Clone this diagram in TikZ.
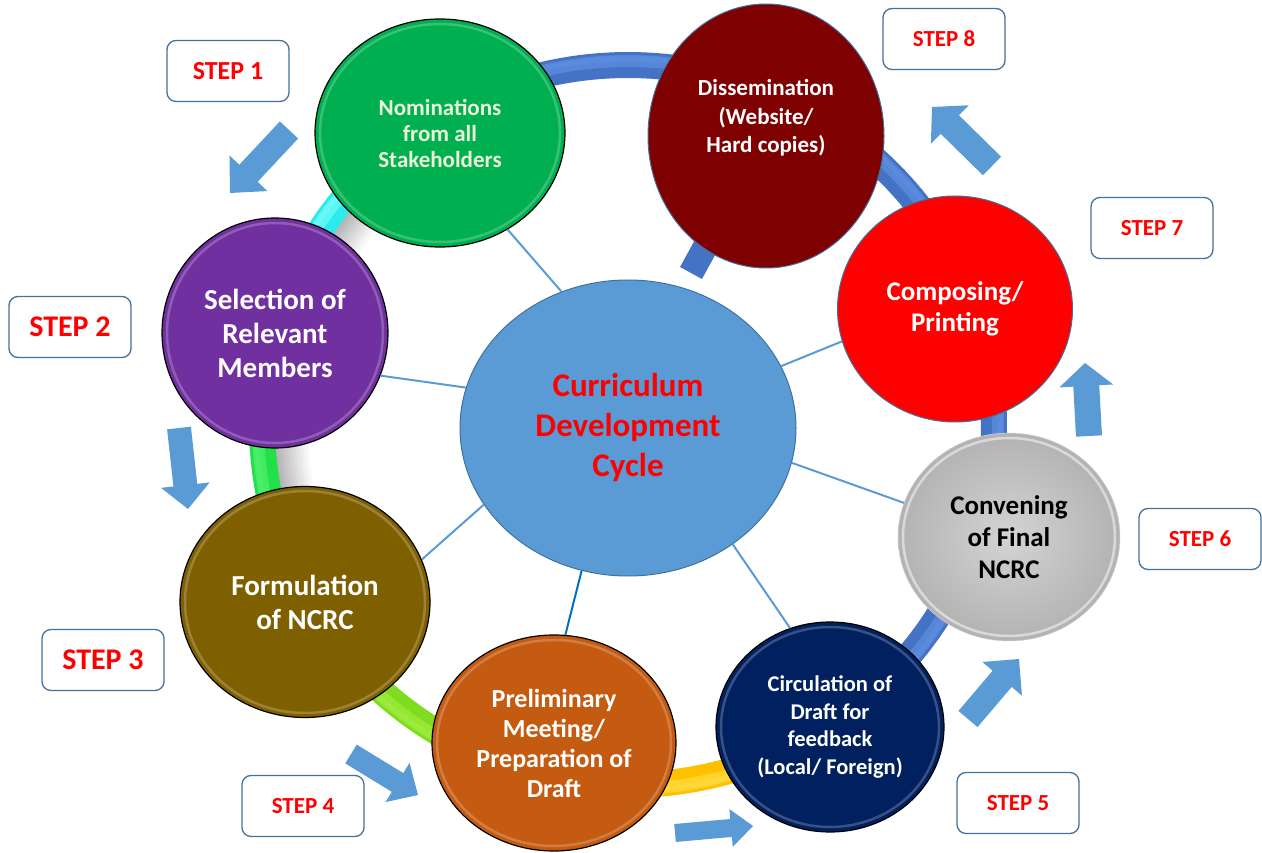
\documentclass[tikz,border=0pt]{standalone}
\usepackage{fontspec}
\setmainfont{Carlito}
\usetikzlibrary{shapes.geometric,calc}
\definecolor{nomgreen}{HTML}{00B050}
\definecolor{dismaroon}{HTML}{7F0000}
\definecolor{selpurple}{HTML}{7030A0}
\definecolor{compred}{HTML}{FF0000}
\definecolor{formbrown}{HTML}{7F6000}
\definecolor{prelorange}{HTML}{C55A11}
\definecolor{circnavy}{HTML}{002060}
\definecolor{ccblue}{HTML}{5B9BD5}
\definecolor{edgeblue}{HTML}{41719C}
\definecolor{ringblue}{HTML}{4472C4}
\definecolor{ringbluehl}{HTML}{5F8FE0}
\definecolor{ringcyan}{HTML}{2BEBEB}
\definecolor{ringcyanhl}{HTML}{70FAFA}
\definecolor{ringgreen}{HTML}{22E04A}
\definecolor{ringgreenhl}{HTML}{50F070}
\definecolor{ringlime}{HTML}{80DC1E}
\definecolor{ringlimehl}{HTML}{A0EC40}
\definecolor{ringyellow}{HTML}{FFC000}
\definecolor{ringyellowhl}{HTML}{FFDC40}
\definecolor{arrowblue}{HTML}{5B9BD5}
\definecolor{nomtext}{HTML}{EBF2D8}
\definecolor{darkspoke}{HTML}{0070C0}
\definecolor{stepred}{HTML}{FF0000}
\definecolor{shadowgray}{HTML}{B0B0B0}
\pgfdeclarelayer{bg}
\pgfsetlayers{bg,main}
\newcommand\blockarr[5]{%
  \coordinate (#1-b) at ($(#2)!#5!(#1)$);
  \fill[barrow] ($(#1)!#3!90:(#2)$) -- ($(#1-b)!#3!-90:(#1)$) -- ($(#1-b)!#4!-90:(#1)$) -- (#2) -- ($(#1-b)!#4!90:(#1)$) -- ($(#1-b)!#3!90:(#1)$) -- ($(#1)!#3!-90:(#2)$) -- cycle;}
\newcommand\ringseg[4]{%
  \draw[line width=26pt, #3] plot[domain=#1:#2, samples=70, smooth] ({628+366*cos(\x)},{425+360*sin(\x)});
  \draw[line width=12pt, #4, opacity=.7] plot[domain=#1:#2, samples=70, smooth] ({628+370*cos(\x)},{425+364*sin(\x)});
  \draw[line width=5pt, #4, opacity=.6] plot[domain=#1:#2, samples=70, smooth] ({628+372*cos(\x)},{425+366*sin(\x)});}
\tikzset{
  bub/.style n args={3}{ellipse, minimum width=#1pt, minimum height=#2pt, fill=#3, draw=black, line width=1.2pt, inner sep=0pt, align=center, text=white},
  stepbox/.style={draw=edgeblue, line width=1.3pt, rounded corners=9pt, fill=white, minimum width=122pt, minimum height=61pt, text=stepred, inner sep=0pt},
  barrow/.style={fill=arrowblue},
  spoke/.style={draw=ccblue, line width=2pt},
  hl/.style={draw=white, opacity=.22, line width=2.5pt},
  txt/.style={align=center, text=white, inner sep=0pt}
}
\begin{document}
\begin{tikzpicture}[x=1pt,y=-1pt]
\useasboundingbox (0,0) rectangle (1262,853);

% ring (background)
\begin{pgfonlayer}{bg}
\foreach \i in {0,...,13}{
  \pgfmathsetmacro{\r}{354-2.5*\i}
  \pgfmathsetmacro{\c}{100*(1-\i/14)}
  \draw[line width=3pt, draw=shadowgray!\c!white] plot[domain=150:245, samples=50, smooth] ({628+\r*cos(\x)},{425+(\r-6)*sin(\x)});
}
\ringseg{237}{416}{ringblue}{ringbluehl}
\ringseg{56}{103}{ringyellow}{ringyellowhl}
\ringseg{103}{151}{ringlime}{ringlimehl}
\ringseg{151}{195}{ringgreen}{ringgreenhl}
\ringseg{195}{237}{ringcyan}{ringcyanhl}
\end{pgfonlayer}

% circles
\node[bub={250}{228}{nomgreen}, text=nomtext, font=\fontsize{23}{26}\selectfont\bfseries] (nom) at (440,133) {Nominations\\from all\\Stakeholders};
\node[bub={236}{264}{dismaroon}, draw=edgeblue, line width=1pt] (dis) at (766,136) {};
\node[txt, font=\fontsize{23}{28.5}\selectfont\bfseries] (dist) at (766,118) {Dissemination\\(Website/\\Hard copies)};
\node[bub={226}{230}{selpurple}, font=\fontsize{29}{34}\selectfont\bfseries] (sel) at (275,333) {Selection of\\Relevant\\Members};
\node[bub={235}{226}{compred}, draw=edgeblue, line width=1pt, font=\fontsize{27}{31}\selectfont\bfseries] (comp) at (955,309) {Composing/\\Printing};
\node[bub={250}{231}{formbrown}, font=\fontsize{29}{34}\selectfont\bfseries] (form) at (305,602) {Formulation\\of NCRC};
\node[ellipse, minimum width=222pt, minimum height=208pt, inner sep=0pt, align=center, shading=radial, inner color=black!17, outer color=black!30, draw=black!18, line width=.5pt, font=\fontsize{27}{32}\selectfont\bfseries] (conv) at (1009,537) {Convening\\of Final\\NCRC};
\node[bub={244}{216}{prelorange}, font=\fontsize{26}{30}\selectfont\bfseries] (prel) at (554,743) {Preliminary\\Meeting/\\Preparation of\\Draft};
\node[bub={228}{210}{circnavy}, font=\fontsize{22.5}{27.5}\selectfont\bfseries] (circ) at (830,727) {Circulation of\\Draft for\\feedback\\(Local/ Foreign)};
\node[ellipse, minimum width=336pt, minimum height=296pt, inner sep=0pt, fill=ccblue, draw=edgeblue, line width=1pt, align=center, text=compred, font=\fontsize{33}{40}\selectfont\bfseries] (cc) at (628,428) {Curriculum\\Development\\Cycle};

% bevel highlights
\draw[hl] (nom.center) ellipse[x radius=120, y radius=109];
\draw[hl] (sel.center) ellipse[x radius=108, y radius=110];
\draw[hl] (form.center) ellipse[x radius=120, y radius=111];
\draw[hl] (prel.center) ellipse[x radius=117, y radius=103];
\draw[hl] (circ.center) ellipse[x radius=109, y radius=100];
\draw[hl, opacity=.5] (conv.center) ellipse[x radius=106, y radius=99];

% spoke under dissemination
\coordinate (spk) at (691,273);
\begin{pgfonlayer}{bg}
\draw[line width=25pt, ringblue] (dis.center) -- (spk);
\end{pgfonlayer}

% thin spokes
\draw[spoke] (cc.116) -- (nom.-55);
\draw[spoke] (cc.166) -- (sel.-22);
\draw[spoke] (cc.208) -- (form.20);
\draw[spoke, draw=darkspoke] (cc.252) -- (prel.84);
\draw[spoke] (cc.-48) -- (circ.112);
\draw[spoke] (cc.-12.5) -- (conv.162);
\draw[spoke] (cc.22.7) -- (comp.196);

% step boxes
\node[stepbox, font=\fontsize{26}{30}\selectfont\bfseries] (s1) at (228,71) {STEP 1};
\node[stepbox, font=\fontsize{30}{34}\selectfont\bfseries] (s2) at (70,327) {STEP 2};
\node[stepbox, font=\fontsize{30}{34}\selectfont\bfseries] (s3) at (103,660) {STEP 3};
\node[stepbox, font=\fontsize{23}{27}\selectfont\bfseries] (s4) at (303,806) {STEP 4};
\node[stepbox, font=\fontsize{23}{27}\selectfont\bfseries] (s5) at (1018,803) {STEP 5};
\node[stepbox, font=\fontsize{23}{27}\selectfont\bfseries] (s6) at (1200,539) {STEP 6};
\node[stepbox, font=\fontsize{23}{27}\selectfont\bfseries] (s7) at (1152,228) {STEP 7};
\node[stepbox, font=\fontsize{23}{27}\selectfont\bfseries] (s8) at (944,39) {STEP 8};

% block arrows
\coordinate (a1) at (289,130); \coordinate (a1h) at (230,193);
\blockarr{a1}{a1h}{12.5pt}{26pt}{27pt}
\coordinate (a2) at (179,428); \coordinate (a2h) at (188,509);
\blockarr{a2}{a2h}{12pt}{24.5pt}{24pt}
\coordinate (a3) at (351,754); \coordinate (a3h) at (418,795);
\blockarr{a3}{a3h}{11pt}{23pt}{24pt}
\coordinate (a4) at (675,833); \coordinate (a4h) at (753,826);
\blockarr{a4}{a4h}{9pt}{19pt}{22pt}
\coordinate (a5) at (968,719); \coordinate (a5h) at (1019,659);
\blockarr{a5}{a5h}{12.5pt}{26pt}{26pt}
\coordinate (a6) at (1089,436); \coordinate (a6h) at (1085,363);
\blockarr{a6}{a6h}{13pt}{27pt}{23pt}
\coordinate (a7) at (992,166); \coordinate (a7h) at (932,107);
\blockarr{a7}{a7h}{13pt}{27pt}{25pt}
\end{tikzpicture}
\end{document}
